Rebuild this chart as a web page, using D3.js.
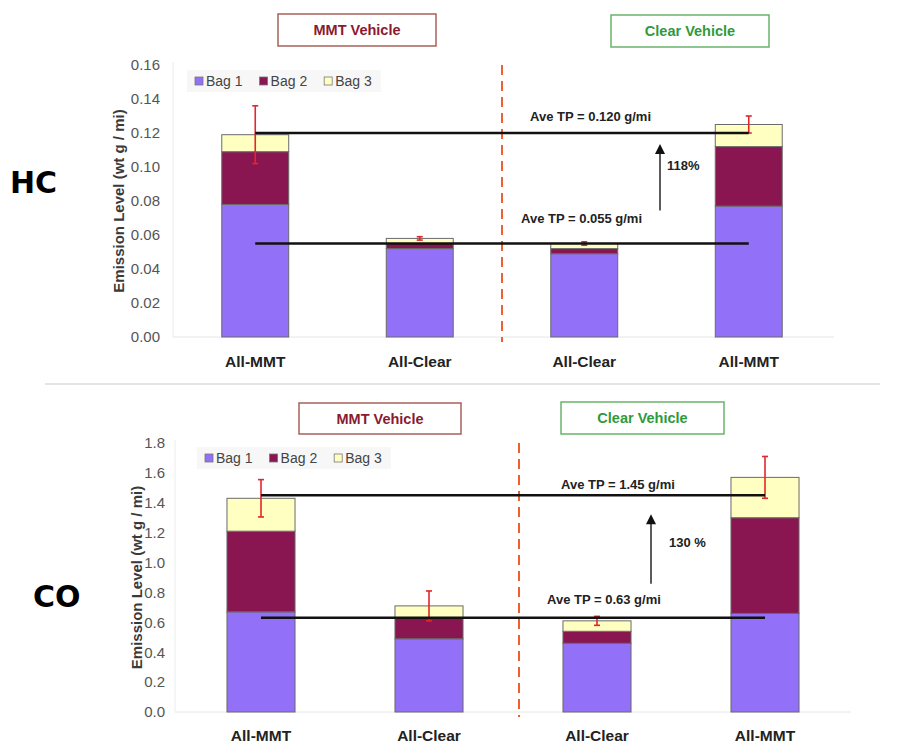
<!DOCTYPE html>
<html lang="en">
<head>
<meta charset="UTF-8">
<title>HC and CO emission levels</title>
<script src="https://d3js.org/d3.v7.min.js"></script>
<style>
  * { margin: 0; padding: 0; box-sizing: border-box; }
  body { background: #fff; font-family: 'Liberation Sans', Arial, sans-serif; }
  svg { display: block; }
</style>
</head>
<body>
<svg id="chart" width="908" height="753"></svg>
<script>
// ---- data ----
const categories = ["All-MMT", "All-Clear", "All-Clear", "All-MMT"];
const bagNames = ["Bag 1", "Bag 2", "Bag 3"];

// HC (g/mi), stacked per bag
const hcBag1 = [0.078, 0.052, 0.049, 0.077];
const hcBag2 = [0.031, 0.003, 0.003, 0.035];
const hcBag3 = [0.010, 0.003, 0.003, 0.013];
const hcErr  = [0.017, 0.001, 0.001, 0.005];
const hcAvg  = [0.120, 0.055];
const hcAvgLabels = ["Ave TP = 0.120 g/mi", "Ave TP = 0.055 g/mi"];
const hcTicks = [0, 0.02, 0.04, 0.06, 0.08, 0.10, 0.12, 0.14, 0.16];

// CO (g/mi)
const coBag1 = [0.67, 0.49, 0.46, 0.66];
const coBag2 = [0.54, 0.14, 0.08, 0.64];
const coBag3 = [0.22, 0.08, 0.07, 0.27];
const coErr  = [0.125, 0.10, 0.03, 0.14];
const coAvg  = [1.45, 0.63];
const coAvgLabels = ["Ave TP = 1.45 g/mi", "Ave TP = 0.63 g/mi"];
const coTicks = [0, 0.2, 0.4, 0.6, 0.8, 1.0, 1.2, 1.4, 1.6, 1.8];

const bagColors = ["#9370f8", "#891650", "#ffffc2"];

const svg = d3.select("#chart");

function drawPanel(p) {
  const g = svg.append("g");

  const x = d3.scaleBand()
    .domain(d3.range(categories.length))
    .range([p.x0, p.x1])
    .paddingInner(p.pad)
    .paddingOuter(p.pad / 2);
  const y = d3.scaleLinear().domain([0, p.ticks[p.ticks.length - 1]]).range([p.yBottom, p.yTop]);
  const cx = i => x(i) + x.bandwidth() / 2;

  // faint plot frame
  g.append("line").attr("x1", p.frameLeft).attr("x2", p.frameLeft)
    .attr("y1", p.yTop - 3).attr("y2", p.yBottom).attr("stroke", "#ececec");
  g.append("line").attr("x1", p.frameLeft).attr("x2", p.frameRight)
    .attr("y1", p.yBottom).attr("y2", p.yBottom).attr("stroke", "#e6e6e6");

  // y axis (labels only)
  const yAxis = d3.axisLeft(y).tickValues(p.ticks).tickFormat(d3.format(p.fmt)).tickSize(0).tickPadding(0);
  const ax = g.append("g").attr("transform", `translate(${p.tickX},0)`).call(yAxis);
  ax.select(".domain").remove();
  ax.selectAll("text").attr("font-family", "'Liberation Sans', Arial, sans-serif")
    .attr("font-size", 15).attr("fill", "#555");

  // y title
  g.append("text")
    .attr("transform", `translate(${p.titleX},${(p.yTop + p.yBottom) / 2 + p.titleDy}) rotate(-90)`)
    .attr("text-anchor", "middle")
    .attr("font-size", 15).attr("font-weight", "bold").attr("fill", "#3a3a3a")
    .text("Emission Level (wt g / mi)");

  // stacked bars
  const rows = categories.map((c, i) => ({ i, b1: p.bag1[i], b2: p.bag2[i], b3: p.bag3[i] }));
  const stack = d3.stack().keys(["b1", "b2", "b3"])(rows);
  stack.forEach((layer, k) => {
    g.append("g").selectAll("rect").data(layer).join("rect")
      .attr("x", d => x(d.data.i))
      .attr("width", x.bandwidth())
      .attr("y", d => y(d[1]))
      .attr("height", d => y(d[0]) - y(d[1]))
      .attr("fill", bagColors[k])
      .attr("stroke", "#6a6a6a").attr("stroke-width", 1);
  });

  // error bars
  const totals = rows.map(r => r.b1 + r.b2 + r.b3);
  const eb = g.append("g").attr("stroke", "#e3262b").attr("stroke-width", 1.6);
  totals.forEach((t, i) => {
    const e = p.err[i];
    eb.append("line").attr("x1", cx(i)).attr("x2", cx(i)).attr("y1", y(t + e)).attr("y2", y(t - e));
    eb.append("line").attr("x1", cx(i) - 3).attr("x2", cx(i) + 3).attr("y1", y(t + e)).attr("y2", y(t + e));
    eb.append("line").attr("x1", cx(i) - 3).attr("x2", cx(i) + 3).attr("y1", y(t - e)).attr("y2", y(t - e));
  });

  // dashed divider
  g.append("line")
    .attr("x1", p.divX).attr("x2", p.divX)
    .attr("y1", p.yTop).attr("y2", p.yBottom + 5)
    .attr("stroke", "#f0602a").attr("stroke-width", 2).attr("stroke-dasharray", "10,6");

  // average lines
  p.avg.forEach((v, k) => {
    g.append("line")
      .attr("x1", cx(0)).attr("x2", cx(categories.length - 1))
      .attr("y1", y(v)).attr("y2", y(v))
      .attr("stroke", "#111").attr("stroke-width", 2.5);
    g.append("text")
      .attr("x", p.avgLabelX[k]).attr("y", y(v) - p.avgLabelDy[k])
      .attr("font-size", 13).attr("font-weight", "bold").attr("fill", "#222")
      .text(p.avgLabels[k]);
  });

  // arrow between averages
  const ay1 = y(p.avg[1]) - p.arrowBottom, ay2 = y(p.avg[0]) + p.arrowTop;
  g.append("line").attr("x1", p.arrowX).attr("x2", p.arrowX)
    .attr("y1", ay1).attr("y2", ay2 + 8)
    .attr("stroke", "#333").attr("stroke-width", 1.6);
  g.append("path")
    .attr("d", `M${p.arrowX},${ay2} L${p.arrowX - 5},${ay2 + 10} L${p.arrowX + 5},${ay2 + 10} Z`)
    .attr("fill", "#111");
  g.append("text").attr("x", p.pctX).attr("y", p.pctY)
    .attr("font-size", 13).attr("font-weight", "bold").attr("fill", "#222")
    .text(p.pct);

  // category labels
  g.append("g").selectAll("text").data(categories).join("text")
    .attr("x", (d, i) => cx(i)).attr("y", p.catY)
    .attr("text-anchor", "middle")
    .attr("font-size", 15.5).attr("font-weight", "bold").attr("fill", "#222")
    .text(d => d);

  // legend
  const lg = g.append("g").attr("transform", `translate(${p.legX},${p.legY})`);
  const bg = lg.append("rect").attr("fill", "#f7f7f7");
  let off = 8;
  bagNames.forEach((name, k) => {
    lg.append("rect").attr("x", off).attr("y", -4).attr("width", 8).attr("height", 8)
      .attr("fill", bagColors[k]).attr("stroke", "#777").attr("stroke-width", 0.8);
    const t = lg.append("text").attr("x", off + 11).attr("y", 5)
      .attr("font-size", 14).attr("fill", "#444").text(name);
    off += 11 + t.node().getComputedTextLength() + 17;
  });
  bg.attr("x", 0).attr("y", -11).attr("width", off - 8).attr("height", 22);

  // headline boxes
  p.boxes.forEach(b => {
    g.append("rect").attr("x", b.x).attr("y", b.y).attr("width", b.w).attr("height", b.h)
      .attr("fill", "#fff").attr("stroke", b.stroke).attr("stroke-width", 1.5);
    g.append("text").attr("x", b.x + b.w / 2).attr("y", b.y + b.h / 2 + 5)
      .attr("text-anchor", "middle").attr("font-size", 14.5).attr("font-weight", "bold")
      .attr("fill", b.color).text(b.text);
  });

  // pollutant label
  g.append("text").attr("x", p.nameX).attr("y", p.nameY)
    .attr("font-family", "'DejaVu Sans', Verdana, sans-serif")
    .attr("font-size", 30).attr("font-weight", "bold").attr("fill", "#000")
    .text(p.name);
}

drawPanel({
  name: "HC", nameX: 10, nameY: 193,
  bag1: hcBag1, bag2: hcBag2, bag3: hcBag3, err: hcErr,
  avg: hcAvg, avgLabels: hcAvgLabels, ticks: hcTicks, fmt: ".2f",
  x0: 173, x1: 831, pad: 0.593,
  yTop: 65, yBottom: 337, tickX: 160, titleX: 124, titleDy: 0,
  frameLeft: 173, frameRight: 834, divX: 502,
  avgLabelX: [530, 521], avgLabelDy: [12, 21],
  arrowX: 660, arrowBottom: 33, arrowTop: 11,
  pct: "118%", pctX: 667, pctY: 170,
  catY: 367, legX: 187, legY: 81,
  boxes: [
    { x: 278, y: 14, w: 158, h: 32, stroke: "#a8605a", color: "#8a1a32", text: "MMT Vehicle" },
    { x: 611, y: 15, w: 158, h: 32, stroke: "#6bb36b", color: "#2f9a3c", text: "Clear Vehicle" }
  ]
});

drawPanel({
  name: "CO", nameX: 33, nameY: 607,
  bag1: coBag1, bag2: coBag2, bag3: coBag3, err: coErr,
  avg: coAvg, avgLabels: coAvgLabels, ticks: coTicks, fmt: ".1f",
  x0: 177, x1: 849, pad: 0.595,
  yTop: 443, yBottom: 712, tickX: 165, titleX: 142, titleDy: 0,
  frameLeft: 175, frameRight: 851, divX: 519,
  avgLabelX: [561, 547], avgLabelDy: [6, 14],
  arrowX: 651, arrowBottom: 34, arrowTop: 19,
  pct: "130 %", pctX: 669, pctY: 547,
  catY: 741, legX: 197, legY: 458,
  boxes: [
    { x: 299, y: 403, w: 162, h: 31, stroke: "#a8605a", color: "#8a1a32", text: "MMT Vehicle" },
    { x: 561, y: 402, w: 163, h: 32, stroke: "#6bb36b", color: "#2f9a3c", text: "Clear Vehicle" }
  ]
});

// separator between panels
svg.append("line").attr("x1", 45).attr("x2", 880).attr("y1", 384).attr("y2", 384)
  .attr("stroke", "#dcdcdc").attr("stroke-width", 1.5);
</script>
</body>
</html>
